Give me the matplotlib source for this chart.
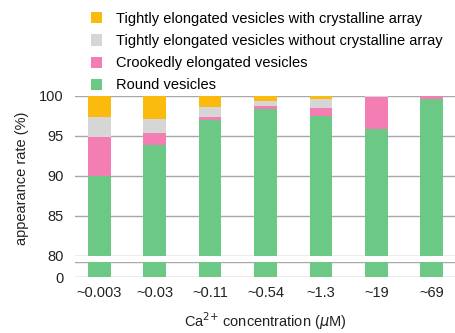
import numpy as np
import matplotlib
matplotlib.use('Agg')
import matplotlib.pyplot as plt

plt.rcParams['font.family'] = ['Liberation Sans', 'DejaVu Sans']

conc = ['~0.003', '~0.03', '~0.11', '~0.54', '~1.3', '~19', '~69']
round_v = [90.0, 93.9, 97.0, 98.3, 97.5, 95.9, 99.6]
crooked = [4.8, 1.5, 0.3, 0.45, 1.0, 3.9, 0.4]
tight_no = [2.6, 1.7, 1.3, 0.65, 1.1, 0.2, 0.0]
tight_cr = [2.6, 2.9, 1.4, 0.6, 0.4, 0.0, 0.0]

labels = ['Round vesicles', 'Crookedly elongated vesicles',
          'Tightly elongated vesicles without crystalline array',
          'Tightly elongated vesicles with crystalline array']
colors = ['#6cc985', '#f47eb3', '#d6d6d6', '#fbba0e']
series = [round_v, crooked, tight_no, tight_cr]

W, H = 456, 333
fig = plt.figure(figsize=(W / 100, H / 100), dpi=100)

def px_axes(left, top, right, bottom):
    return fig.add_axes([left / W, 1 - bottom / H, (right - left) / W, (bottom - top) / H])

ax = px_axes(75, 95.7, 456, 255.7)
ax2 = px_axes(75, 262, 456, 277.3)

x = np.arange(len(conc))
grid_c = '#a8a8a8'
handles = []
for a in (ax, ax2):
    bottom = np.zeros(len(conc))
    for vals, c, lab in zip(series, colors, labels):
        b = a.bar(x, vals, 0.41, bottom=bottom, color=c, label=lab, zorder=2)
        bottom += np.array(vals)
        if a is ax:
            handles.append(b)
    a.set_xlim(-0.44, 6.44)
    for s in a.spines.values():
        s.set_visible(False)
    a.tick_params(length=0, labelsize=10.5, colors='#222222', pad=8)

ax.set_ylim(80, 100)
ax.set_yticks([80, 85, 90, 95, 100])
for v in [80, 85, 90, 95, 100]:
    ax.axhline(v, color=grid_c, lw=1, zorder=1)
ax.set_xticks([])

ax2.set_ylim(0, 1)
ax2.set_yticks([0])
ax2.axhline(0, color=grid_c, lw=1, zorder=1)
ax2.axhline(1, color=grid_c, lw=1, zorder=1)
ax2.set_xticks(x)
ax2.set_xticklabels(conc)
ax2.tick_params(axis='x', pad=6)

fig.text(22 / W, 1 - 178 / H, 'appearance rate (%)', rotation=90, ha='center', va='center',
         fontsize=10.5, color='#222222')
fig.text(265 / W, 1 - 321 / H, r'Ca$^{2{+}}$ concentration ($\mu$M)', ha='center', va='center',
         fontsize=10.5, color='#222222')

leg = fig.legend(handles[::-1], labels[::-1], loc='upper left', bbox_to_anchor=(85 / W, 1 - 6 / H),
                 frameon=False, fontsize=10.5, handlelength=0.8, handleheight=0.8,
                 handletextpad=0.95, labelspacing=0.56, borderaxespad=0)

plt.savefig('out.png', dpi=100)
